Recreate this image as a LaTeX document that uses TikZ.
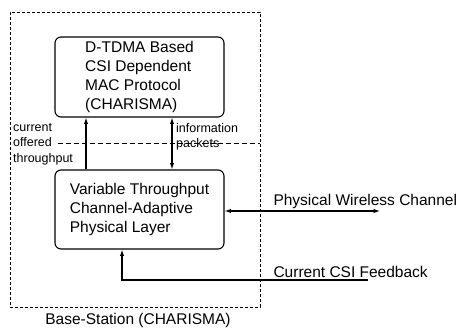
\documentclass[tikz,border=0pt]{standalone}
\usepackage{fontspec}
\setmainfont{Liberation Sans}
\usetikzlibrary{arrows.meta}

\begin{document}
\begin{tikzpicture}[
  x=1pt, y=-1pt,
  font=\fontsize{15.5}{19}\selectfont,
  layer/.style={
    draw,
    line width=1.1pt,
    rounded corners=6pt,
    align=left,
    minimum width=169pt,
    minimum height=80pt
  },
  note/.style={font=\fontsize{12.5}{15.5}\selectfont, align=left, inner sep=0pt},
  flow/.style={-{Latex[length=2.2mm,width=1.5mm]}, line width=1.1pt},
  dflow/.style={{Latex[length=2.2mm,width=1.5mm]}-{Latex[length=2.2mm,width=1.5mm]}, line width=1.1pt}
]
  \useasboundingbox (0,0) rectangle (463,327);

  % base station frame
  \node[draw, line width=0.9pt, dash pattern=on 3pt off 2pt,
        minimum width=250pt, minimum height=295pt, inner sep=0pt] (bs) at (135,159.5) {};
  \node[anchor=base] (bslabel) at (138,324) {Base-Station (CHARISMA)};

  % protocol layers
  \node[layer] (mac) at (139.5,77) {D-TDMA Based\\CSI Dependent\\MAC Protocol\\(CHARISMA)};
  \node[layer, minimum height=79pt] (phy) at (139.5,209.5) {Variable Throughput\\Channel-Adaptive\\Physical Layer};

  % separator between the layers
  \coordinate (sepL) at (58,143);
  \coordinate (sepR) at (bs.east |- sepL);
  \draw[line width=0.9pt, dash pattern=on 5pt off 3pt] (sepL) -- (sepR);

  \node[note, anchor=north west] (thr) at (13,123) {current\\offered\\throughput};
  \node[note, anchor=north west] (info) at (176,123) {information\\packets};

  \draw[flow] ([xshift=-53.5pt]phy.north) -- ([xshift=-53.5pt]mac.south);
  \draw[dflow] ([xshift=32.5pt]phy.north) -- ([xshift=32.5pt]mac.south);

  % outside world
  \coordinate (chan) at (380,211);
  \coordinate (csi) at (368,280);
  \draw[dflow] (phy.east |- chan) -- (chan);
  \draw[flow] (csi) -| ([xshift=-17.5pt]phy.south);
  \node[anchor=base west] (chanlabel) at (270,205) {Physical Wireless Channel};
  \node[anchor=base west] (csilabel) at (270,277) {Current CSI Feedback};
\end{tikzpicture}
\end{document}
